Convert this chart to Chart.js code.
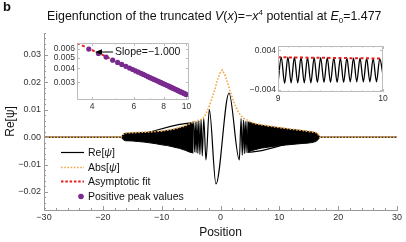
<!DOCTYPE html>
<html>
<head>
<meta charset="utf-8">
<script src="https://cdn.jsdelivr.net/npm/chart.js@4"></script>
<style>
  body { margin: 0; background: #fff; }
  #wrap { position: relative; width: 406px; height: 242px; overflow: hidden;
          font-family: "Liberation Sans", Arial, sans-serif; color: #111; }
  canvas { position: absolute; }
  #tag { position: absolute; left: 3px; top: -1px; font-weight: bold; font-size: 13px; }
  #title { position: absolute; left: 47px; top: 9px; font-size: 12.4px; white-space: nowrap; }
  #title sup, #title sub { font-size: 8px; line-height: 0; }
  #slope { position: absolute; left: 115px; top: 45px; font-size: 10.5px; white-space: nowrap; }
  #legend { position: absolute; left: 61px; top: 145px; font-size: 10.5px; }
  #legend .row { position: relative; height: 14.6px; line-height: 14.6px; white-space: nowrap; }
  #legend svg { position: absolute; left: 0; top: 0; }
  #legend .txt { position: absolute; left: 27px; top: 0; }
</style>
</head>
<body>
<div id="wrap">
  <canvas id="main" width="406" height="242" style="left:0;top:0"></canvas>
  <canvas id="ins1" width="150" height="74" style="left:45px;top:38px"></canvas>
  <canvas id="ins2" width="150" height="68" style="left:245px;top:40px"></canvas>
  <div id="tag">b</div>
  <div id="title">Eigenfunction of the truncated <i>V</i>(<i>x</i>)=−<i>x</i><sup>4</sup> potential at <i>E</i><sub>0</sub>=1.477</div>
  <svg style="position:absolute;left:0;top:0" width="406" height="242">
    <line x1="101" y1="52" x2="113" y2="52" stroke="#000" stroke-width="1"/>
    <polygon points="95,52 102,49.3 102,54.7" fill="#000"/>
  </svg>
  <div id="slope">Slope=−1.000</div>
  <div id="legend">
    <div class="row"><svg width="24" height="14"><line x1="0" y1="7.5" x2="23" y2="7.5" stroke="#000" stroke-width="1.2"/></svg><div class="txt">Re[<i>ψ</i>]</div></div>
    <div class="row"><svg width="24" height="14"><line x1="0" y1="7.5" x2="23" y2="7.5" stroke="#f0a848" stroke-width="1.6" stroke-dasharray="1.6 1.6"/></svg><div class="txt">Abs[<i>ψ</i>]</div></div>
    <div class="row"><svg width="24" height="14"><line x1="0" y1="7.5" x2="23" y2="7.5" stroke="#e62020" stroke-width="2" stroke-dasharray="2.5 1.8"/></svg><div class="txt">Asymptotic fit</div></div>
    <div class="row"><svg width="24" height="14"><circle cx="20" cy="7.5" r="2.8" fill="#7a2a8f"/></svg><div class="txt">Positive peak values</div></div>
  </div>
</div>
<script>
// valores
const bandLeftX   = [-16.9, -16.5, -16.2, -15, -14, -13, -12, -11, -10, -9, -8, -7, -6, -5.2, -4.6];
const bandLeftUp  = [0, 0.0010, 0.0014, 0.0015, 0.0016, 0.0017, 0.0018, 0.0020, 0.0021, 0.0024, 0.0028, 0.0033, 0.0040, 0.0050, 0.0056];
const bandLeftLow = [0, -0.0010, -0.0013, -0.0014, -0.0016, -0.0018, -0.0021, -0.0024, -0.0028, -0.0031, -0.0036, -0.0041, -0.0048, -0.0055, -0.0058];

const bandRightX   = [4.6, 5.2, 6, 7, 8, 9, 10, 11, 12, 13, 14, 14.7, 15.5, 16.2, 16.6, 16.9];
const bandRightUp  = [0.0056, 0.0052, 0.0047, 0.0043, 0.0040, 0.0037, 0.0034, 0.0031, 0.0028, 0.0026, 0.0023, 0.0021, 0.0019, 0.0016, 0.0009, 0];
const bandRightLow = [-0.0056, -0.0050, -0.0045, -0.0040, -0.0037, -0.0034, -0.0031, -0.0029, -0.0027, -0.0025, -0.0023, -0.0022, -0.0020, -0.0016, -0.0009, 0];

const reX = [-30, -16.9, -4.6, -4.45, -4.3, -4.15, -4.0, -3.85, -3.68, -3.5, -3.3, -3.1, -2.85, -2.47, -1.9, -0.77,
             1.45, 3.2, 3.5, 3.7, 3.9, 4.05, 4.2, 4.35, 4.5, 4.65, 16.9, 30];
const reY = [0, 0, 0.0052, -0.0054, 0.0054, -0.0056, 0.0057, -0.0059, 0.0060, -0.0063, 0.0064, -0.0068, 0.0068, -0.0083, 0.0100, -0.0171,
             0.0161, -0.0083, 0.0068, -0.0066, 0.0062, -0.0060, 0.0058, -0.0057, 0.0056, -0.0055, 0, 0];

const absX = [-30, -16.9, -16.5, -16.2, -14, -12, -10, -8, -6, -5, -4, -3, -2.5, -2, -1.5, -1, -0.5, 0, 0.3,
              0.8, 1.2, 1.6, 2, 2.5, 3, 3.5, 4, 4.5, 5, 6, 8, 10, 12, 14, 16.2, 16.6, 16.9, 30];
const absY = [0, 0, 0.0011, 0.0015, 0.0017, 0.0019, 0.0022, 0.0029, 0.0041, 0.0051, 0.0060, 0.0066, 0.0085, 0.0107, 0.0138, 0.0170, 0.0210, 0.0238, 0.0245,
              0.0225, 0.0198, 0.0170, 0.0145, 0.0115, 0.0092, 0.0077, 0.0068, 0.0062, 0.0056, 0.0049, 0.0041, 0.0035, 0.0029, 0.0024, 0.0017, 0.0010, 0, 0];

// inset 1 (log-log)
const peakX = [3.87, 4.25, 4.58, 4.88, 5.12, 5.33, 5.55, 5.75, 5.93, 6.1, 6.27, 6.43, 6.58, 6.73, 6.88, 7.02, 7.16, 7.3, 7.43, 7.56, 7.69,
               7.82, 7.94, 8.06, 8.18, 8.3, 8.42, 8.53, 8.64, 8.75, 8.86, 8.97, 9.08, 9.18, 9.28, 9.38, 9.48, 9.58, 9.68, 9.78, 9.88, 9.98];
const peakY = [0.00599, 0.00546, 0.00507, 0.00475, 0.00453, 0.00435, 0.00418, 0.00403, 0.00391, 0.00380, 0.00370, 0.00361, 0.00353, 0.00345,
               0.00337, 0.00330, 0.00324, 0.00318, 0.00312, 0.00307, 0.00302, 0.00297, 0.00292, 0.00288, 0.00284, 0.00280, 0.00276, 0.00272,
               0.00269, 0.00265, 0.00262, 0.00259, 0.00256, 0.00253, 0.00250, 0.00247, 0.00245, 0.00242, 0.00240, 0.00237, 0.00235, 0.00232];
const fitX = [3.45, 10.3];
const fitY = [0.00680, 0.00226];
const ins1XTicks = [4, 5, 6, 7, 8, 9, 10];
const ins1YTicks = [0.003, 0.004, 0.005, 0.006];

// inset 2 (zoom 9..10)
const zoomX = [9.000, 9.031, 9.063, 9.094, 9.125, 9.156, 9.188, 9.219, 9.250, 9.281, 9.313, 9.344, 9.375, 9.406, 9.438, 9.469, 9.500,
               9.531, 9.563, 9.594, 9.625, 9.656, 9.688, 9.719, 9.750, 9.781, 9.813, 9.844, 9.875, 9.906, 9.938, 9.969, 10.000];
const zoomY = [-0.0027, 0.0026, -0.0027, 0.0026, -0.0026, 0.0026, -0.0026, 0.0026, -0.0026, 0.0025, -0.0026, 0.0025, -0.0025, 0.0025, -0.0025, 0.0025, -0.0025,
               0.0025, -0.0025, 0.0024, -0.0025, 0.0024, -0.0024, 0.0024, -0.0024, 0.0024, -0.0024, 0.0024, -0.0024, 0.0023, -0.0024, 0.0023, -0.0010];
const fit2X = [9, 10];
const fit2Y = [0.00258, 0.00232];
const ins2XTicks = [9, 9.1, 9.2, 9.3, 9.4, 9.5, 9.6, 9.7, 9.8, 9.9, 10];
const ins2YTicks = [-0.004, 0, 0.004];

const FONT = '"Liberation Sans", Arial, sans-serif';
Chart.defaults.font.family = FONT;
Chart.defaults.animation = false;
Chart.defaults.responsive = false;

const pts = (xs, ys) => xs.map((x, i) => ({ x: x, y: ys[i] }));
const minus = s => s.replace('-', '−');
const noGrid = { display: false, drawTicks: false, tickLength: 0 };

// ticks hacia dentro, estilo Mathematica
const inTicks = {
  id: 'inTicks',
  afterDraw(chart, args, o) {
    const { ctx, chartArea: a } = chart;
    const sx = chart.scales.x, sy = chart.scales.y;
    ctx.save();
    ctx.strokeStyle = o.color;
    ctx.lineWidth = 1;
    ctx.beginPath();
    if (o.box) ctx.rect(a.left + 0.5, a.top + 0.5, a.width - 1, a.height - 1);
    sx.ticks.forEach(t => {
      const p = Math.round(sx.getPixelForValue(t.value)) + 0.5;
      const len = t.label !== '' ? o.major : o.minor;
      ctx.moveTo(p, a.bottom); ctx.lineTo(p, a.bottom - len);
      if (o.box) { ctx.moveTo(p, a.top); ctx.lineTo(p, a.top + len); }
    });
    sy.ticks.forEach(t => {
      const p = Math.round(sy.getPixelForValue(t.value)) + 0.5;
      const len = t.label !== '' ? o.major : o.minor;
      ctx.moveTo(a.left, p); ctx.lineTo(a.left + len, p);
      if (o.box) { ctx.moveTo(a.right, p); ctx.lineTo(a.right - len, p); }
    });
    ctx.stroke();
    ctx.restore();
  }
};

const line = (data, color, width, extra) => Object.assign({
  data: data, borderColor: color, backgroundColor: color, borderWidth: width,
  pointRadius: 0, fill: false
}, extra || {});

// grafica principal
new Chart(document.getElementById('main'), {
  type: 'line',
  data: {
    datasets: [
      line(pts(absX, absY), '#f0a848', 1.6, { borderDash: [1.6, 1.6] }),
      line(pts(reX, reY), '#000', 1.2, { cubicInterpolationMode: 'monotone' }),
      line(pts(bandLeftX, bandLeftUp), '#000', 1, { fill: '+1' }),
      line(pts(bandLeftX, bandLeftLow), '#000', 1),
      line(pts(bandRightX, bandRightUp), '#000', 1, { fill: '+1' }),
      line(pts(bandRightX, bandRightLow), '#000', 1)
    ]
  },
  options: {
    layout: { padding: { top: 33, right: 9, left: 0, bottom: 0 } },
    plugins: {
      legend: { display: false }, tooltip: { enabled: false },
      inTicks: { color: '#999', major: 4, minor: 2, box: false }
    },
    scales: {
      x: {
        type: 'linear', min: -30, max: 30,
        grid: noGrid, border: { color: '#999' },
        ticks: {
          stepSize: 2, autoSkip: false, maxRotation: 0, padding: 2, color: '#333', font: { size: 9 },
          callback: v => (v % 10 === 0 ? minus(String(v)) : '')
        },
        title: { display: true, text: 'Position', color: '#111', font: { size: 12 }, padding: { top: 0, bottom: 2 } },
        afterFit(s) { s.height = 32; s.paddingLeft = 0; s.paddingRight = 0; }
      },
      y: {
        type: 'linear', min: -0.0266, max: 0.038,
        grid: noGrid, border: { color: '#999' },
        ticks: {
          stepSize: 0.002, includeBounds: false, autoSkip: false, padding: 3, color: '#333', font: { size: 9 },
          callback: v => {
            const c = Math.round(v * 100);
            return Math.abs(v * 100 - c) < 1e-6 ? minus((c / 100).toFixed(2)) : '';
          }
        },
        title: { display: true, text: 'Re[ψ]', color: '#111', font: { size: 12 }, padding: { top: 3, bottom: 0 } },
        afterFit(s) { s.width = 44; s.paddingTop = 0; s.paddingBottom = 0; }
      }
    }
  },
  plugins: [inTicks]
});

// recuadro 1: picos en log-log
new Chart(document.getElementById('ins1'), {
  type: 'line',
  data: {
    datasets: [
      line(pts(peakX, peakY), '#7a2a8f', 0, { showLine: false, pointRadius: 2.6, pointBorderWidth: 0 }),
      line(pts(fitX, fitY), '#e62020', 2, { borderDash: [3, 2.5] })
    ]
  },
  options: {
    layout: { padding: { top: 5, right: 6, left: 0, bottom: 0 } },
    plugins: {
      legend: { display: false }, tooltip: { enabled: false },
      inTicks: { color: '#bbb', major: 3, minor: 1.5, box: true }
    },
    scales: {
      x: {
        type: 'logarithmic', min: 3.45, max: 10.25,
        grid: noGrid, border: { display: false },
        afterBuildTicks(s) { s.ticks = ins1XTicks.map(v => ({ value: v })); },
        ticks: { autoSkip: false, maxRotation: 0, padding: 2, color: '#333', font: { size: 8.5 },
                 callback: v => (v % 2 === 0 ? String(v) : '') },
        afterFit(s) { s.height = 12; s.paddingLeft = 0; s.paddingRight = 0; }
      },
      y: {
        type: 'logarithmic', min: 0.00207, max: 0.0068,
        grid: noGrid, border: { display: false },
        afterBuildTicks(s) { s.ticks = ins1YTicks.map(v => ({ value: v })); },
        ticks: { autoSkip: false, padding: 2, color: '#333', font: { size: 8.5 },
                 callback: v => v.toFixed(3) },
        afterFit(s) { s.width = 32; s.paddingTop = 0; s.paddingBottom = 0; }
      }
    }
  },
  plugins: [inTicks]
});

// recuadro 2: zoom entre 9 y 10
new Chart(document.getElementById('ins2'), {
  type: 'line',
  data: {
    datasets: [
      line(pts(fit2X, fit2Y), '#e62020', 2, { borderDash: [3, 2.5] }),
      line(pts(zoomX, zoomY), '#000', 1.3, { cubicInterpolationMode: 'monotone' })
    ]
  },
  options: {
    layout: { padding: { top: 6, right: 12, left: 0, bottom: 0 } },
    plugins: {
      legend: { display: false }, tooltip: { enabled: false },
      inTicks: { color: '#bbb', major: 3, minor: 1.5, box: true }
    },
    scales: {
      x: {
        type: 'linear', min: 9, max: 10,
        grid: noGrid, border: { display: false },
        afterBuildTicks(s) { s.ticks = ins2XTicks.map(v => ({ value: v })); },
        ticks: { autoSkip: false, maxRotation: 0, padding: 2, color: '#333', font: { size: 8.5 },
                 callback: v => (Number.isInteger(v) ? String(v) : '') },
        afterFit(s) { s.height = 16; s.paddingLeft = 0; s.paddingRight = 0; }
      },
      y: {
        type: 'linear', min: -0.00446, max: 0.00486,
        grid: noGrid, border: { display: false },
        afterBuildTicks(s) { s.ticks = ins2YTicks.map(v => ({ value: v })); },
        ticks: { autoSkip: false, padding: 2, color: '#333', font: { size: 8.5 },
                 callback: v => (v === 0 ? '' : minus(v.toFixed(3))) },
        afterFit(s) { s.width = 33; s.paddingTop = 0; s.paddingBottom = 0; }
      }
    }
  },
  plugins: [inTicks]
});
</script>
</body>
</html>
